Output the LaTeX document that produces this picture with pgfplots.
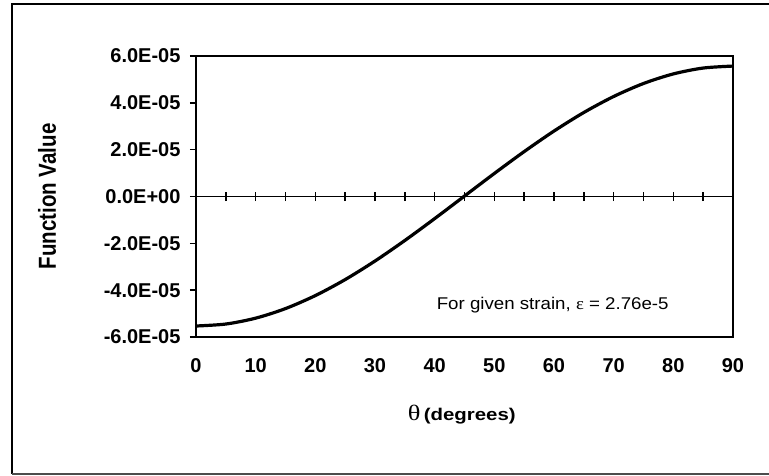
\documentclass[border=0pt]{standalone}
\usepackage{fontspec}
\usepackage{graphicx}
\setmainfont{Liberation Sans}
\newfontfamily\bfont{Liberation Sans}[UprightFont=*-Bold]
\newfontfamily\symfont{Liberation Serif}
\usepackage{pgfplots}
\pgfplotsset{compat=1.18}
\begin{document}
\begin{tikzpicture}[x=1pt,y=1pt]
\useasboundingbox (0,0) rectangle (769,475);
\draw[line width=2.5pt] (12,0.8) -- (12,471) -- (769,471);
\draw[line width=1.5pt, black!70] (12,0.8) -- (769,0.8);
% zero line with cross ticks
\begin{axis}[at={(196pt,138pt)}, anchor=south west, scale only axis,
  width=537pt, height=281pt, xmin=0, xmax=90, ymin=-6e-5, ymax=6e-5,
  axis x line=middle, axis y line=none, axis line style={-, line width=1.4pt},
  xtick={5,10,...,85}, xticklabels={}, ytick=\empty,
  tick align=center, major tick length=9pt, xtick style={line width=1.5pt, black}]
\end{axis}
\begin{axis}[at={(196pt,138pt)}, anchor=south west, scale only axis,
  width=537pt, height=281pt, xmin=0, xmax=90, ymin=-6e-5, ymax=6e-5,
  axis line style={line width=2.4pt},
  xtick={0,10,20,30,40,50,60,70,80,90}, xtick style={draw=none},
  xticklabels={0,10,20,30,40,50,60,70,80,90},
  ytick={-6e-5,-4e-5,-2e-5,0,2e-5,4e-5,6e-5},
  yticklabels={-6.0E-05,-4.0E-05,-2.0E-05,0.0E+00,2.0E-05,4.0E-05,6.0E-05},
  ytick style={line width=1.5pt, black}, tick align=outside, major tick length=6pt,
  xtick pos=bottom, ytick pos=left, scaled y ticks=false,
  /pgf/number format/assume math mode=true,
  every tick label/.append style={font=\bfont\fontsize{20}{22}\selectfont},
  xticklabel style={yshift=-12pt},
  yticklabel style={xshift=-6pt},
  ylabel={\scalebox{1}[1.2]{\bfont\fontsize{20.5}{22}\selectfont Function Value}},
  ylabel style={at={(axis description cs:-0.2775,0.5)}, anchor=center},
  xlabel={\scalebox{1.2}[1]{{\symfont\fontsize{22}{24}\selectfont θ} {\bfont\fontsize{17}{19}\selectfont(degrees)}}},
  xlabel style={at={(axis description cs:0.495,-0.2776)}, anchor=center},
  clip=false]
\addplot[black, line width=3.2pt, smooth] coordinates {
(0,-5.53e-5) (5,-5.446e-5) (10,-5.195e-5) (15,-4.786e-5) (20,-4.231e-5)
(25,-3.548e-5) (30,-2.755e-5) (35,-1.878e-5) (40,-0.944e-5) (45,0.02e-5)
(50,0.984e-5) (55,1.918e-5) (60,2.795e-5) (65,3.588e-5) (70,4.271e-5)
(75,4.826e-5) (80,5.235e-5) (85,5.486e-5) (90,5.57e-5)};
\node[anchor=west, inner sep=0pt] at (axis description cs:0.448,0.114)
  {\scalebox{1.1}[1]{\fontsize{17}{19}\selectfont For given strain, {\symfont ε} = 2.76e-5}};
\end{axis}
\end{tikzpicture}
\end{document}
